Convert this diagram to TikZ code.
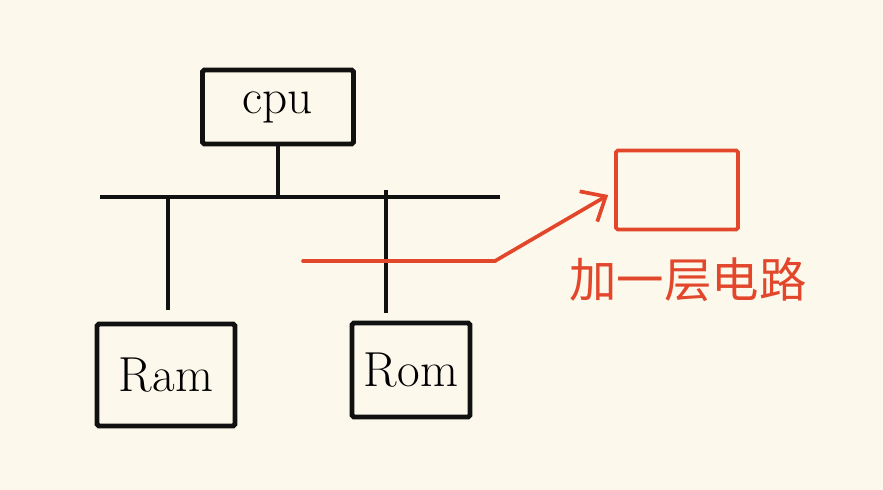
\documentclass[tikz,border=0pt]{standalone}
\usepackage{fontspec}
\newfontfamily\cjk{Noto Sans CJK SC}
\usepackage{tikz}
\usetikzlibrary{arrows.meta,positioning,calc}
\definecolor{Paper}{HTML}{FDF8EC}
\definecolor{Ink}{HTML}{111111}
\definecolor{Mark}{HTML}{E2472B}

\begin{document}
\begin{tikzpicture}[x=0.02cm,y=-0.02cm,
    unit/.style={draw=Ink,line width=2.8pt,rounded corners=1pt,inner sep=0pt,
                 font=\fontsize{28}{30}\selectfont},
    wire/.style={draw=Ink,line width=2.8pt},
    redwire/.style={draw=Mark,line width=2.1pt,line cap=round}]
  \fill[Paper] (0,0) rectangle (883,490);
  \useasboundingbox (0,0) rectangle (883,490);

  % devices on the bus
  \node[unit,minimum width=3.02cm,minimum height=1.48cm] (cpu) at (278,107) {cpu};
  \node[unit,minimum width=2.76cm,minimum height=2.04cm] (ram) at (166,375) {Ram};
  \node[unit,minimum width=2.36cm,minimum height=1.88cm] (rom) at (411,370) {Rom};

  % the bus
  \coordinate (busL) at (100,197);
  \coordinate (busR) at (500,197);
  \draw[wire] (busL) -- (busR);
  \draw[wire] (cpu.south) -- (cpu.south |- busL);
  \draw[wire] ($(ram.north -| 168,0)+(0,-12)$) -- (168,197);
  \draw[wire] ($(rom.north -| 386,0)+(0,-8)$) -- (386,190);

  % added layer
  \node[draw=Mark,line width=2.1pt,rounded corners=1pt,minimum width=2.44cm,
        minimum height=1.58cm] (layer) at (677,190) {};
  \node[text=Mark,font=\cjk\fontsize{27}{30}\selectfont] (note) at (688,280) {加一层电路};
  \coordinate (redL) at (303,261);
  \coordinate (redR) at (495,261);
  \draw[redwire] (redL) -- (redR);
  \draw[redwire,-{Straight Barb[length=4mm,width=7mm]}] (redR) -- ($(layer.west)+(-6,5)$);
\end{tikzpicture}
\end{document}
